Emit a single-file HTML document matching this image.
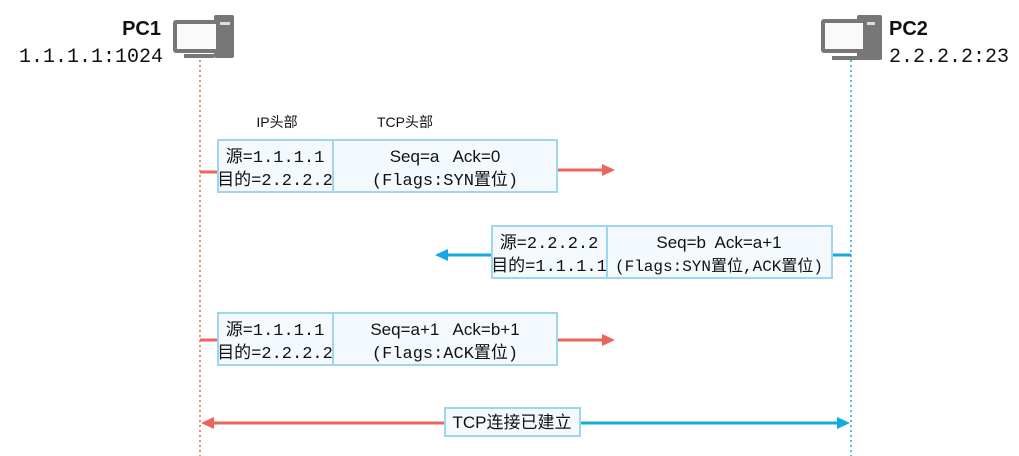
<!DOCTYPE html>
<html><head><meta charset="utf-8"><style>
html,body{margin:0;padding:0;background:#fff;}
svg{display:block;}
text{font-family:"Liberation Sans","Noto Sans CJK SC",sans-serif;fill:#111;white-space:pre;}
.m{font-family:"Liberation Mono","Noto Sans CJK SC",monospace;}
</style></head><body>
<svg width="1019" height="456" viewBox="0 0 1019 456" xmlns="http://www.w3.org/2000/svg" xml:space="preserve">
<line x1="200" y1="60" x2="200" y2="456" stroke="#e8665a" stroke-width="1.5" stroke-dasharray="2,3"/>
<line x1="851" y1="60" x2="851" y2="456" stroke="#16a8e0" stroke-width="1.5" stroke-dasharray="2,3"/>
<g fill="#777">
<rect x="214" y="15" width="20" height="43" rx="2"/>
<rect x="220" y="22" width="10" height="3" fill="#ddd"/>
<rect x="173" y="20" width="47" height="33" rx="3"/>
<rect x="177" y="24" width="39" height="25" fill="#fafafa"/>
<rect x="184" y="54" width="30" height="4"/>
</g>
<g fill="#777">
<rect x="857" y="15" width="25" height="45" rx="2"/>
<rect x="863" y="22" width="12" height="3" fill="#ddd"/>
<rect x="821" y="19" width="46" height="34" rx="3"/>
<rect x="825" y="23" width="38" height="26" fill="#fafafa"/>
<rect x="832" y="56" width="28" height="4"/>
</g>
<text x="161" y="35" font-size="20" font-weight="bold" text-anchor="end">PC1</text>
<text x="163" y="62" font-size="20" text-anchor="end" class="m">1.1.1.1:1024</text>
<text x="889" y="35" font-size="20" font-weight="bold">PC2</text>
<text x="889" y="62" font-size="20" class="m">2.2.2.2:23</text>
<text x="277" y="127" font-size="14" text-anchor="middle">IP头部</text>
<text x="405" y="127" font-size="14" text-anchor="middle">TCP头部</text>
<line x1="200" y1="172" x2="217" y2="172" stroke="#e8665a" stroke-width="3"/>
<rect x="218" y="140" width="339" height="52" fill="#f3f9fd" stroke="#9ed6f0" stroke-width="2"/>
<line x1="333" y1="140" x2="333" y2="192" stroke="#9ed6f0" stroke-width="2"/>
<text x="275" y="162" font-size="17" text-anchor="middle" class="m">源=1.1.1.1</text>
<text x="275" y="185" font-size="17" text-anchor="middle" class="m">目的=2.2.2.2</text>
<text x="445" y="162" font-size="17" text-anchor="middle">Seq=a   Ack=0</text>
<text x="445" y="185" font-size="17" text-anchor="middle" class="m">(Flags:SYN置位)</text>
<line x1="558" y1="170" x2="604" y2="170" stroke="#e8665a" stroke-width="3"/>
<polygon points="602,164 615,170 602,176" fill="#e8665a"/>
<line x1="833" y1="255" x2="851" y2="255" stroke="#16a8e0" stroke-width="3"/>
<rect x="492" y="226" width="340" height="52" fill="#f3f9fd" stroke="#9ed6f0" stroke-width="2"/>
<line x1="607" y1="226" x2="607" y2="278" stroke="#9ed6f0" stroke-width="2"/>
<text x="549" y="248" font-size="17" text-anchor="middle" class="m">源=2.2.2.2</text>
<text x="549" y="271" font-size="17" text-anchor="middle" class="m">目的=1.1.1.1</text>
<text x="719" y="248" font-size="17" text-anchor="middle">Seq=b  Ack=a+1</text>
<text x="719" y="271" font-size="16" text-anchor="middle" class="m">(Flags:SYN置位,ACK置位)</text>
<line x1="446" y1="255" x2="491" y2="255" stroke="#16a8e0" stroke-width="3"/>
<polygon points="448,249 435,255 448,261" fill="#16a8e0"/>
<line x1="200" y1="340" x2="217" y2="340" stroke="#e8665a" stroke-width="3"/>
<rect x="218" y="313" width="339" height="52" fill="#f3f9fd" stroke="#9ed6f0" stroke-width="2"/>
<line x1="333" y1="313" x2="333" y2="365" stroke="#9ed6f0" stroke-width="2"/>
<text x="275" y="335" font-size="17" text-anchor="middle" class="m">源=1.1.1.1</text>
<text x="275" y="358" font-size="17" text-anchor="middle" class="m">目的=2.2.2.2</text>
<text x="445" y="335" font-size="17" text-anchor="middle">Seq=a+1   Ack=b+1</text>
<text x="445" y="358" font-size="17" text-anchor="middle" class="m">(Flags:ACK置位)</text>
<line x1="558" y1="340" x2="604" y2="340" stroke="#e8665a" stroke-width="3"/>
<polygon points="602,334 615,340 602,346" fill="#e8665a"/>
<line x1="212" y1="423" x2="446" y2="423" stroke="#e8665a" stroke-width="3"/>
<polygon points="214,417 201,423 214,429" fill="#e8665a"/>
<line x1="581" y1="423" x2="838" y2="423" stroke="#16a8e0" stroke-width="3"/>
<polygon points="837,417 850,423 837,429" fill="#16a8e0"/>
<rect x="445" y="408" width="135" height="28" fill="#f3f9fd" stroke="#9ed6f0" stroke-width="2"/>
<text x="512" y="428" font-size="17" text-anchor="middle">TCP连接已建立</text>
</svg>
</body></html>
